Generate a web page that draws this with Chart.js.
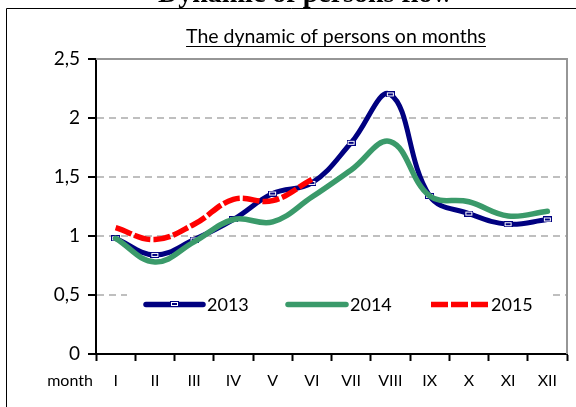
<!DOCTYPE html>
<html><head><meta charset="utf-8">
<script src="https://cdn.jsdelivr.net/npm/chart.js@4.4.0/dist/chart.umd.min.js"></script>
<style>html,body{margin:0;padding:0;background:#fff}#wrap{width:576px;height:407px;position:relative}</style>
</head><body><div id="wrap"><canvas id="c" width="576" height="407"></canvas></div>
<script>
const months = ['I','II','III','IV','V','VI','VII','VIII','IX','X','XI','XII'];
const yTickLabels = ['0','0,5','1','1,5','2','2,5'];
const seriesNames = ['2013','2014','2015'];
const s2013 = [0.98, 0.84, 0.97, 1.14, 1.36, 1.45, 1.79, 2.20, 1.34, 1.19, 1.10, 1.14];
const s2014 = [0.98, 0.78, 0.95, 1.14, 1.12, 1.33, 1.56, 1.80, 1.34, 1.29, 1.17, 1.21];
const s2015 = [1.07, 0.97, 1.10, 1.31, 1.30, 1.48];
const mainTitle = 'Dynamic of persons flow';
const chartTitle = 'The dynamic of persons on months';
const xAxisName = 'month';

const FONT = 'Lato, "Open Sans", sans-serif';
const NAVY = '#000080', GREEN = '#3a9a6a', RED = '#ff0000';

function markerCanvas(fill){
  const c = document.createElement('canvas'); c.width = 9; c.height = 6;
  const x = c.getContext('2d');
  x.fillStyle = fill; x.fillRect(0,0,9,6);
  x.strokeStyle = '#ffffff'; x.lineWidth = 1; x.strokeRect(1.5,1.5,6,3);
  return c;
}
const navyMarker = markerCanvas(NAVY);

const framePlugin = {
  id: 'frame',
  beforeDraw(chart){
    const ctx = chart.ctx;
    ctx.save();
    ctx.fillStyle = '#fff'; ctx.fillRect(0,0,576,407);
    // cut-off heading
    ctx.fillStyle = '#000';
    ctx.font = 'bold 28px "Liberation Serif", serif';
    ctx.textAlign = 'left'; ctx.textBaseline = 'alphabetic';
    ctx.fillText(mainTitle, 158, 1.5);
    // outer frame
    ctx.strokeStyle = '#000'; ctx.lineWidth = 1;
    ctx.beginPath(); ctx.moveTo(6.5, 420); ctx.lineTo(6.5, 8.5); ctx.lineTo(590, 8.5); ctx.stroke();
    // chart title underlined
    ctx.font = '19.5px ' + FONT;
    ctx.textAlign = 'center'; ctx.textBaseline = 'alphabetic';
    ctx.fillText(chartTitle, 336, 43);
    const w = ctx.measureText(chartTitle).width;
    ctx.fillRect(336 - w/2, 46, w, 1);
    // x axis name
    ctx.font = '16px ' + FONT; ctx.textBaseline = 'middle';
    ctx.fillText(xAxisName, 70, 381);
    ctx.restore();
  },
  beforeDatasetsDraw(chart){
    const ctx = chart.ctx, a = chart.chartArea;
    ctx.save();
    ctx.strokeStyle = '#969696'; ctx.lineWidth = 2;
    ctx.beginPath(); ctx.moveTo(a.left, a.top); ctx.lineTo(a.right, a.top); ctx.lineTo(a.right, a.bottom); ctx.stroke();
    ctx.restore();
  },
  afterDatasetsDraw(chart){
    const ctx = chart.ctx;
    const y = chart.scales.y.getPixelForValue(0.42);
    ctx.save();
    ctx.fillStyle = '#fff';
    ctx.fillRect(127, y - 18, 426, 36);
    const items = [
      {x0:146, x1:203, tx:207, color:NAVY, dash:[], marker:navyMarker, width:5.5},
      {x0:288, x1:346, tx:350, color:GREEN, dash:[], marker:null, width:5.5},
      {x0:431, x1:488, tx:491, color:RED, dash:[17,3], marker:null, width:5.5}
    ];
    items.forEach((it, i) => {
      ctx.strokeStyle = it.color; ctx.lineWidth = it.width;
      ctx.lineCap = it.dash.length ? 'butt' : 'round';
      ctx.setLineDash(it.dash);
      ctx.beginPath(); ctx.moveTo(it.x0, y); ctx.lineTo(it.x1, y); ctx.stroke();
      ctx.setLineDash([]);
      if (it.marker) ctx.drawImage(it.marker, Math.round((it.x0+it.x1)/2 - 4.5), Math.round(y - 3));
      ctx.fillStyle = '#000';
      ctx.font = '18px ' + FONT; ctx.textAlign = 'left'; ctx.textBaseline = 'middle';
      ctx.fillText(seriesNames[i], it.tx, y + 1);
    });
    ctx.restore();
  }
};

new Chart(document.getElementById('c'), {
  type: 'line',
  data: {
    labels: months,
    datasets: [
      {label: seriesNames[0], data: s2013, borderColor: NAVY, borderWidth: 5, tension: 0.4,
       pointStyle: navyMarker, pointRadius: 4, order: 2, borderCapStyle: 'round'},
      {label: seriesNames[1], data: s2014, borderColor: GREEN, borderWidth: 5.5, tension: 0.4,
       pointRadius: 0, order: 1, borderCapStyle: 'round'},
      {label: seriesNames[2], data: s2015, borderColor: RED, borderWidth: 5.5, tension: 0.4,
       borderDash: [17,3], pointRadius: 0, order: 0}
    ]
  },
  options: {
    responsive: false, animation: false, devicePixelRatio: 1,
    layout: {padding: {left: 0, top: 59, right: 3, bottom: 0}},
    plugins: {legend: {display: false}, tooltip: {enabled: false}, title: {display: false}},
    scales: {
      x: {
        offset: true,
        grid: {display: true, drawOnChartArea: false, drawTicks: true, offset: true,
               tickLength: 7, tickColor: '#000', tickWidth: 2},
        border: {display: true, color: '#000', width: 2},
        ticks: {color: '#000', font: {family: FONT, size: 16}, padding: 10, maxRotation: 0, autoSkip: false},
        afterFit(s){ s.height = 53; }
      },
      y: {
        min: 0, max: 2.5,
        grid: {color: ctx => (ctx.tick && (ctx.tick.value === 0 || ctx.tick.value === 2.5)) ? 'rgba(0,0,0,0)' : '#bfbfbf',
               lineWidth: 2, drawTicks: true, tickLength: 8, tickColor: '#000', tickWidth: 2},
        border: {display: true, color: '#000', width: 2, dash: [7,5]},
        ticks: {stepSize: 0.5, color: '#000', font: {family: FONT, size: 19}, padding: 8,
                callback: (v, i) => yTickLabels[i]},
        afterFit(s){ s.width = 96; }
      }
    }
  },
  plugins: [framePlugin]
});
</script></body></html>
